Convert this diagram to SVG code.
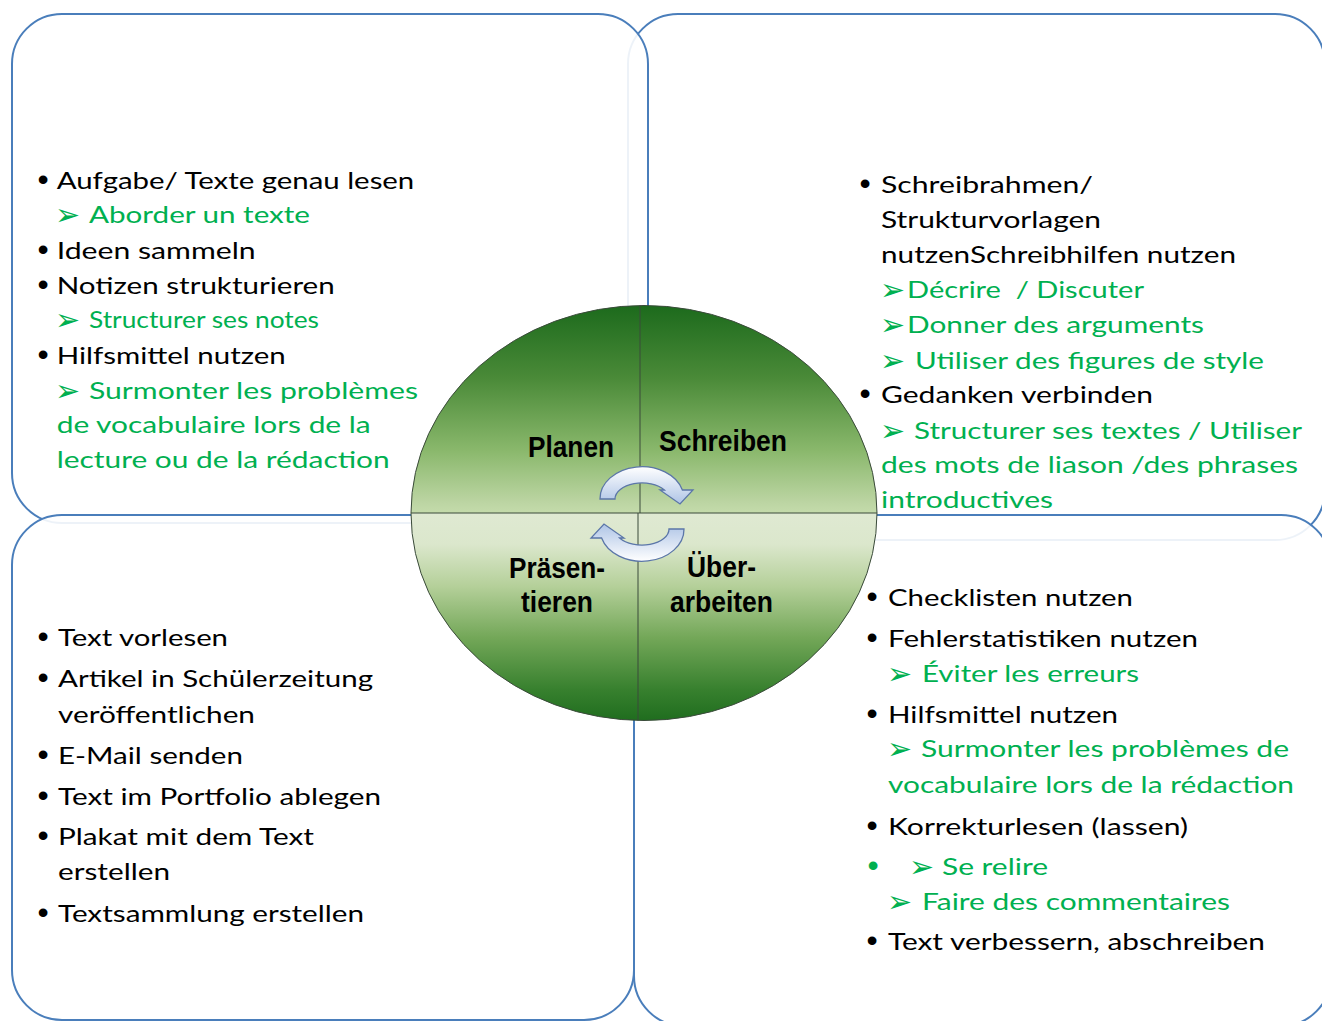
<svg xmlns="http://www.w3.org/2000/svg" width="1322" height="1021" viewBox="0 0 1322 1021">
<defs>
<style>
.box{fill:#fff;fill-opacity:0.9;stroke:#4a7ebb;stroke-width:2}
.t{font-family:Lato,"Liberation Sans",sans-serif;font-size:24px;fill:#000}
.g{fill:#00b050}
.bu{font-family:"Liberation Sans",sans-serif;font-size:32px;fill:#000;text-anchor:middle}
.bu.g{fill:#00b050}
.ar{font-family:"DejaVu Sans",sans-serif;font-size:30px;fill:#00b050}
.lbl{font-family:"Liberation Sans",Arial,sans-serif;font-weight:bold;font-size:29px;fill:#000}
.div{stroke:#3a4a3a;stroke-width:1;fill:none}
.cyc{stroke:#5b76a8;stroke-width:1.3;fill:url(#arrGrad)}
</style>
<linearGradient id="topGrad" x1="0" y1="305" x2="0" y2="513" gradientUnits="userSpaceOnUse">
<stop offset="0" stop-color="#1c6a1c"/>
<stop offset="0.35" stop-color="#4a8a38"/>
<stop offset="0.7" stop-color="#8ab86c"/>
<stop offset="0.95" stop-color="#bcd5a3"/>
<stop offset="1" stop-color="#c4dbab"/>
</linearGradient>
<linearGradient id="botGrad" x1="0" y1="513" x2="0" y2="721" gradientUnits="userSpaceOnUse">
<stop offset="0" stop-color="#dfe9d2"/>
<stop offset="0.15" stop-color="#dbe7cc"/>
<stop offset="0.35" stop-color="#b5d09a"/>
<stop offset="0.6" stop-color="#73a758"/>
<stop offset="0.85" stop-color="#37802e"/>
<stop offset="1" stop-color="#1f6d1e"/>
</linearGradient>
<linearGradient id="arrGrad" x1="0" y1="0" x2="0" y2="1">
<stop offset="0" stop-color="#ffffff"/>
<stop offset="1" stop-color="#aec4e6"/>
</linearGradient>
</defs>

<g id="box-tr">
<rect class="box" x="628" y="14" width="697" height="526" rx="50"/>
<text class="bu" x="865" y="194">•</text>
<text class="t" x="881" y="193" textLength="212" lengthAdjust="spacingAndGlyphs">Schreibrahmen/</text>
<text class="t" x="881" y="228" textLength="220" lengthAdjust="spacingAndGlyphs">Strukturvorlagen</text>
<text class="t" x="881" y="263" textLength="355" lengthAdjust="spacingAndGlyphs">nutzenSchreibhilfen nutzen</text>
<text class="ar" x="880" y="300">➢</text>
<text class="t g" x="907" y="298" textLength="237" lengthAdjust="spacingAndGlyphs" xml:space="preserve">Décrire  / Discuter</text>
<text class="ar" x="880" y="335">➢</text>
<text class="t g" x="907" y="333" textLength="297" lengthAdjust="spacingAndGlyphs">Donner des arguments</text>
<text class="ar" x="880" y="371">➢</text>
<text class="t g" x="915" y="369" textLength="349" lengthAdjust="spacingAndGlyphs">Utiliser des figures de style</text>
<text class="bu" x="865" y="404">•</text>
<text class="t" x="881" y="403" textLength="272" lengthAdjust="spacingAndGlyphs">Gedanken verbinden</text>
<text class="ar" x="880" y="441">➢</text>
<text class="t g" x="914" y="439" textLength="388" lengthAdjust="spacingAndGlyphs">Structurer ses textes / Utiliser</text>
<text class="t g" x="881" y="473" textLength="417" lengthAdjust="spacingAndGlyphs">des mots de liason /des phrases</text>
<text class="t g" x="881" y="508" textLength="172" lengthAdjust="spacingAndGlyphs">introductives</text>
</g>

<g id="box-tl">
<rect class="box" x="12" y="14" width="636" height="509" rx="50"/>
<text class="bu" x="43" y="189.5">•</text>
<text class="t" x="56.7" y="188.5" textLength="357.6" lengthAdjust="spacingAndGlyphs">Aufgabe/ Texte genau lesen</text>
<text class="ar" x="55" y="225">➢</text>
<text class="t g" x="89" y="223" textLength="221" lengthAdjust="spacingAndGlyphs">Aborder un texte</text>
<text class="bu" x="43" y="260">•</text>
<text class="t" x="56.7" y="259" textLength="199" lengthAdjust="spacingAndGlyphs">Ideen sammeln</text>
<text class="bu" x="43" y="295">•</text>
<text class="t" x="56.7" y="294" textLength="278" lengthAdjust="spacingAndGlyphs">Notizen strukturieren</text>
<text class="ar" x="55" y="330">➢</text>
<text class="t g" x="89" y="328" textLength="230" lengthAdjust="spacingAndGlyphs">Structurer ses notes</text>
<text class="bu" x="43" y="365">•</text>
<text class="t" x="56.7" y="364" textLength="229" lengthAdjust="spacingAndGlyphs">Hilfsmittel nutzen</text>
<text class="ar" x="55" y="401">➢</text>
<text class="t g" x="89" y="399" textLength="329" lengthAdjust="spacingAndGlyphs">Surmonter les problèmes</text>
<text class="t g" x="56.7" y="433" textLength="314" lengthAdjust="spacingAndGlyphs">de vocabulaire lors de la</text>
<text class="t g" x="56.7" y="468" textLength="333" lengthAdjust="spacingAndGlyphs">lecture ou de la rédaction</text>
</g>

<g id="box-br">
<rect class="box" x="634" y="515" width="697" height="511" rx="50"/>
<text class="bu" x="872" y="607">•</text>
<text class="t" x="888" y="606" textLength="245" lengthAdjust="spacingAndGlyphs">Checklisten nutzen</text>
<text class="bu" x="872" y="648">•</text>
<text class="t" x="888" y="647" textLength="310" lengthAdjust="spacingAndGlyphs">Fehlerstatistiken nutzen</text>
<text class="ar" x="887" y="684">➢</text>
<text class="t g" x="922" y="682" textLength="217" lengthAdjust="spacingAndGlyphs">Éviter les erreurs</text>
<text class="bu" x="872" y="724">•</text>
<text class="t" x="888" y="723" textLength="230" lengthAdjust="spacingAndGlyphs">Hilfsmittel nutzen</text>
<text class="ar" x="887" y="759">➢</text>
<text class="t g" x="921" y="757" textLength="368" lengthAdjust="spacingAndGlyphs">Surmonter les problèmes de</text>
<text class="t g" x="888" y="793" textLength="406" lengthAdjust="spacingAndGlyphs">vocabulaire lors de la rédaction</text>
<text class="bu" x="872" y="836">•</text>
<text class="t" x="888" y="835" textLength="300" lengthAdjust="spacingAndGlyphs">Korrekturlesen (lassen)</text>
<text class="bu g" x="873" y="876">•</text>
<text class="ar" x="909" y="877">➢</text>
<text class="t g" x="942" y="875" textLength="106" lengthAdjust="spacingAndGlyphs">Se relire</text>
<text class="ar" x="887" y="912">➢</text>
<text class="t g" x="922" y="910" textLength="308" lengthAdjust="spacingAndGlyphs">Faire des commentaires</text>
<text class="bu" x="872" y="951">•</text>
<text class="t" x="888" y="950" textLength="377" lengthAdjust="spacingAndGlyphs">Text verbessern, abschreiben</text>
</g>

<g id="box-bl">
<rect class="box" x="12" y="515" width="622" height="505" rx="50"/>
<text class="bu" x="43" y="647">•</text>
<text class="t" x="58" y="646" textLength="170" lengthAdjust="spacingAndGlyphs">Text vorlesen</text>
<text class="bu" x="43" y="688">•</text>
<text class="t" x="58" y="687" textLength="315" lengthAdjust="spacingAndGlyphs">Artikel in Schülerzeitung</text>
<text class="t" x="58" y="723" textLength="197" lengthAdjust="spacingAndGlyphs">veröffentlichen</text>
<text class="bu" x="43" y="765">•</text>
<text class="t" x="58" y="764" textLength="185" lengthAdjust="spacingAndGlyphs">E-Mail senden</text>
<text class="bu" x="43" y="806">•</text>
<text class="t" x="58" y="805" textLength="323" lengthAdjust="spacingAndGlyphs">Text im Portfolio ablegen</text>
<text class="bu" x="43" y="846">•</text>
<text class="t" x="58" y="845" textLength="256" lengthAdjust="spacingAndGlyphs">Plakat mit dem Text</text>
<text class="t" x="58" y="880" textLength="112" lengthAdjust="spacingAndGlyphs">erstellen</text>
<text class="bu" x="43" y="923">•</text>
<text class="t" x="58" y="922" textLength="306" lengthAdjust="spacingAndGlyphs">Textsammlung erstellen</text>
</g>

<g id="cycle">
<path d="M411,513 A233,207.5 0 0 1 877,513 Z" fill="url(#topGrad)"/>
<path d="M411,513 A233,207.5 0 0 0 877,513 Z" fill="url(#botGrad)"/>
<ellipse cx="644" cy="513" rx="233" ry="207.5" class="div" stroke="#4a5a48"/>
<line class="div" x1="640" y1="305.5" x2="640" y2="513"/>
<line class="div" x1="638" y1="513" x2="638" y2="720.5"/>
<line class="div" x1="411" y1="513" x2="877" y2="513"/>
<text class="lbl" x="528" y="457" textLength="86" lengthAdjust="spacingAndGlyphs">Planen</text>
<text class="lbl" x="659" y="451" textLength="128" lengthAdjust="spacingAndGlyphs">Schreiben</text>
<text class="lbl" x="509" y="578" textLength="96" lengthAdjust="spacingAndGlyphs">Präsen-</text>
<text class="lbl" x="521" y="612" textLength="72" lengthAdjust="spacingAndGlyphs">tieren</text>
<text class="lbl" x="687" y="577" textLength="69" lengthAdjust="spacingAndGlyphs">Über-</text>
<text class="lbl" x="670" y="612" textLength="103" lengthAdjust="spacingAndGlyphs">arbeiten</text>
</g>

<g id="connectors">
<path class="cyc" d="M600,499 A42,32 0 0 1 682.4,490 L693,490 L680,504 L660,490 L664.4,490 A27,16 0 0 0 615,499 Z"/>
<path class="cyc" transform="rotate(180 642 514)" d="M600,499 A42,32 0 0 1 682.4,490 L693,490 L680,504 L660,490 L664.4,490 A27,16 0 0 0 615,499 Z"/>
</g>
</svg>
